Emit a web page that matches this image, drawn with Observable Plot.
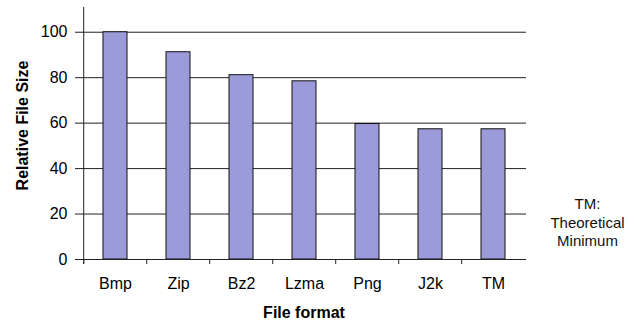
<!DOCTYPE html>
<html>
<head>
<meta charset="utf-8">
<script src="https://cdn.jsdelivr.net/npm/d3@7"></script>
<script src="https://cdn.jsdelivr.net/npm/@observablehq/plot@0.6"></script>
<style>
  html, body { margin: 0; padding: 0; background: #fff; }
  #chart svg { display: block; }
</style>
</head>
<body>
<div id="chart"></div>
<script>
// File formats compared, and their size relative to the uncompressed bitmap
const formats = ["Bmp", "Zip", "Bz2", "Lzma", "Png", "J2k", "TM"];
const sizes = [100, 91.2, 81.1, 78.4, 59.6, 57.3, 57.3];
const yTicks = [0, 20, 40, 60, 80, 100];
const note = "TM:\nTheoretical\nMinimum";

const data = formats.map((f, i) => ({format: f, size: sizes[i]}));

const width = 635, height = 321;
const marginLeft = 81, marginRight = 109, marginTop = 9, marginBottom = 62;
const paddingInner = 0.62, paddingOuter = 0.31;

// Category step, used to put the separator ticks between the bars
const xScale = Plot.scale({
  x: {type: "band", domain: formats, range: [marginLeft, width - marginRight], paddingInner, paddingOuter}
});
const half = xScale.step / 2;

const font = "Liberation Sans, Arial, sans-serif";

const chart = Plot.plot({
  width, height, marginLeft, marginRight, marginTop, marginBottom,
  style: {fontFamily: font, fontSize: "16px", color: "#000", background: "#fff"},
  x: {domain: formats, paddingInner, paddingOuter, axis: null, label: null},
  y: {domain: [0, 110], axis: null, label: null},
  marks: [
    // horizontal gridlines
    Plot.ruleY(yTicks.filter(d => d > 0), {stroke: "#222", strokeWidth: 1}),
    // bars
    Plot.barY(data, {x: "format", y: "size", fill: "#9b9bd9", stroke: "#111", strokeWidth: 1}),
    // category axis line
    Plot.ruleY([0], {stroke: "#222", strokeWidth: 1}),
    // value axis line
    Plot.ruleX([formats[0]], {dx: -half, insetTop: -2, insetBottom: -5, stroke: "#222"}),
    // separator ticks between categories
    Plot.axisX(formats, {tickSize: 5, dx: -half, tickFormat: () => "", stroke: "#222", label: null}),
    // category labels
    Plot.axisX({tickSize: 0, tickPadding: 18, fontSize: 16, fill: "#000", label: null}),
    // value ticks and labels
    Plot.axisY(yTicks, {tickSize: 6, tickPadding: 8, fontSize: 16, fill: "#000", stroke: "#222", label: null}),
    // axis titles
    Plot.text(["Relative File Size"], {frameAnchor: "left", textAnchor: "middle", lineAnchor: "middle",
      rotate: -90, dx: -59, dy: -9, fontWeight: "bold", fontSize: 16, fill: "#000"}),
    Plot.text(["File format"], {frameAnchor: "bottom", textAnchor: "middle", lineAnchor: "middle",
      dy: 53, fontWeight: "bold", fontSize: 16, fill: "#000"}),
    // side note
    Plot.text([note], {frameAnchor: "right", textAnchor: "middle", lineAnchor: "middle",
      dx: 61, dy: 87, lineHeight: 1.25, fontSize: 15, fill: "#111"})
  ]
});

document.getElementById("chart").append(chart);
</script>
</body>
</html>
